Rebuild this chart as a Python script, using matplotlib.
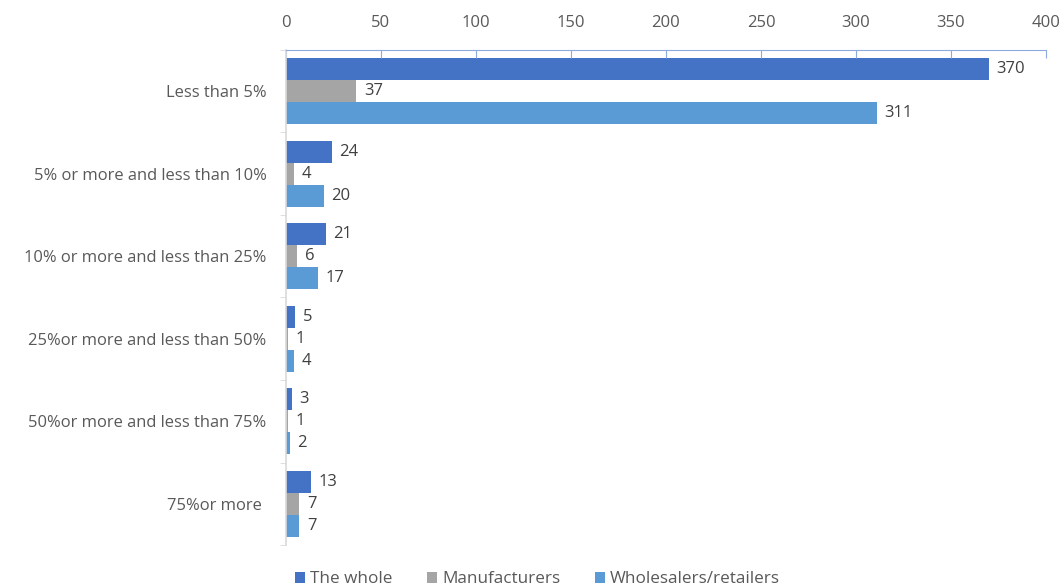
import numpy as np
import matplotlib.pyplot as plt

categories = ["Less than 5%", "5% or more and less than 10%", "10% or more and less than 25%",
              "25%or more and less than 50%", "50%or more and less than 75%", "75%or more "]
whole = [370, 24, 21, 5, 3, 13]
manufacturers = [37, 4, 6, 1, 1, 7]
wholesalers = [311, 20, 17, 4, 2, 7]
series_names = ["The whole", "Manufacturers", "Wholesalers/retailers"]
x_ticks = [0, 50, 100, 150, 200, 250, 300, 350, 400]

plt.rcParams['font.family'] = ['Open Sans', 'DejaVu Sans']
text_color = '#595959'

fig = plt.figure(figsize=(10.6, 5.88), dpi=100)
ax = fig.add_axes([0.2698, 0.0731, 0.717, 0.8419])

y = np.arange(len(categories))
h = 0.265
colors = ['#4472C4', '#A5A5A5', '#5B9BD5']
for k, (vals, name, c) in enumerate(zip([whole, manufacturers, wholesalers], series_names, colors)):
    pos = y + (k - 1) * h
    ax.barh(pos, vals, height=h, color=c, label=name)
    for p, v in zip(pos, vals):
        ax.text(v + 4, p, str(v), va='center', ha='left', fontsize=12, color='#404040')

ax.set_xlim(0, 400)
ax.set_ylim(len(categories) - 0.5, -0.5)
ax.xaxis.tick_top()
ax.set_xticks(x_ticks)
ax.tick_params(axis='x', direction='in', length=6, color='#8EA9DB', labelsize=12,
               labelcolor=text_color, pad=14)
ax.set_yticks(y)
ax.set_yticklabels(categories)
ax.tick_params(axis='y', length=0, labelsize=11.9, labelcolor=text_color, pad=14)
ax.set_yticks(np.arange(len(categories) + 1) - 0.5, minor=True)
ax.tick_params(axis='y', which='minor', length=4, color='#D9D9D9')

for side in ['right', 'bottom']:
    ax.spines[side].set_visible(False)
ax.spines['top'].set_color('#8EA9DB')
ax.spines['left'].set_color('#D9D9D9')
ax.spines['left'].set_linewidth(1.2)

fig.legend(loc='lower center', bbox_to_anchor=(0.507, -0.025), ncol=3, frameon=False,
           fontsize=12.3, labelcolor=text_color, handlelength=0.6, handleheight=0.6,
           handletextpad=0.3, columnspacing=2.0)

fig.savefig('out.png', dpi=100)
